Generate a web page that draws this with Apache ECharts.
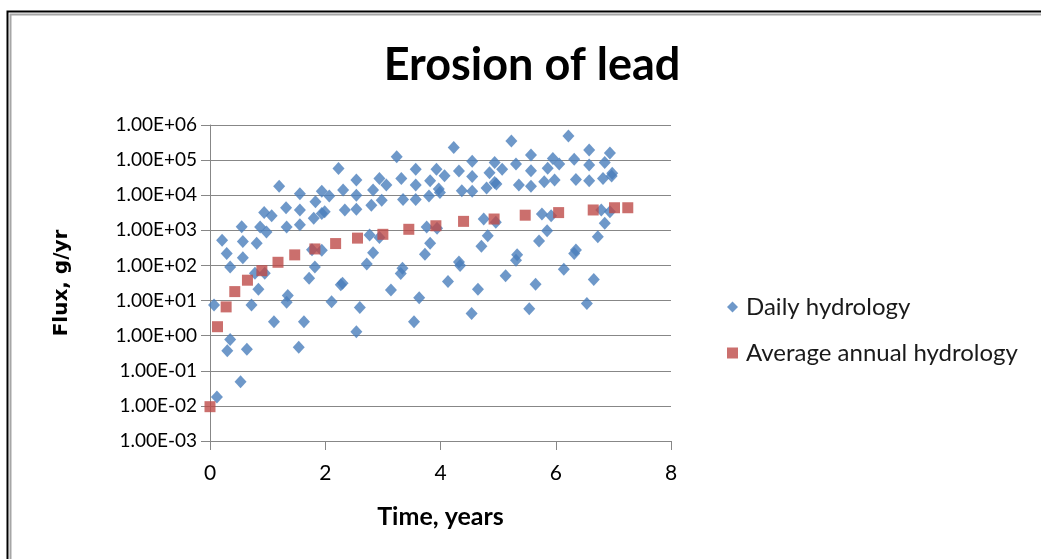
<!DOCTYPE html>
<html>
<head>
<meta charset="utf-8">
<script src="https://cdn.jsdelivr.net/npm/echarts@6/dist/echarts.min.js"></script>
<style>
html,body{margin:0;padding:0;background:#fff;}
#chart{width:1041px;height:559px;}
</style>
</head>
<body>
<div id="chart"></div>
<script>
var title = "Erosion of lead";
var xAxisName = "Time, years";
var yAxisName = "Flux, g/yr";
var seriesNames = ["Daily hydrology", "Average annual hydrology"];
var xTickLabels = ["0", "2", "4", "6", "8"];
var yTickLabels = ["1.00E-03","1.00E-02","1.00E-01","1.00E+00","1.00E+01","1.00E+02","1.00E+03","1.00E+04","1.00E+05","1.00E+06"];

// Daily hydrology: time (years)
var dailyX = [
  0.07,0.12,0.21,0.29,0.35,0.35,0.30,0.53,0.55,0.57,0.57,0.64,0.72,0.81,0.87,0.84,0.78,0.95,0.98,0.94,
  1.07,1.20,1.11,1.32,1.33,1.33,1.35,1.56,1.56,1.56,1.63,1.54,1.72,1.82,1.83,1.80,1.77,1.94,1.94,1.99,
  1.94,2.07,2.11,2.23,2.31,2.34,2.30,2.27,2.54,2.54,2.54,2.54,2.60,2.72,2.83,2.77,2.94,2.83,2.80,2.94,
  2.98,3.06,3.14,3.24,3.32,3.35,3.34,3.31,3.57,3.57,3.57,3.63,3.54,3.73,3.82,3.76,3.94,3.80,3.82,3.93,
  3.97,3.99,4.07,4.23,4.32,4.37,4.13,4.32,4.34,4.55,4.55,4.55,4.65,4.54,4.71,4.82,4.75,4.80,4.85,4.94,
  4.94,4.96,4.97,5.07,5.23,5.31,5.36,5.13,5.31,5.33,5.54,5.65,5.71,5.85,5.76,5.92,5.57,5.57,5.57,5.80,
  5.86,5.95,5.98,6.06,6.22,6.32,6.35,6.14,6.32,6.35,6.54,6.66,6.58,6.58,6.58,6.73,6.85,6.79,6.94,6.82,
  6.85,6.94,6.98,6.97
];
// Daily hydrology: flux (g/yr)
var dailyY = [
  7.5,0.018,520,220,91,0.78,0.37,0.049,1260,480,165,0.41,7.5,430,1250,21,60,60,900,3200,
  2600,18000,2.5,4400,1250,9,14,11000,3800,1450,2.5,0.47,43,91,6500,2200,280,270,13000,3400,
  3000,9500,9.3,58000,14000,3800,31,28,27000,10000,4000,1.3,6.3,110,230,740,620,14000,5200,30000,
  7200,19500,20,125000,30000,7600,83,59,7600,19500,55000,12,2.5,210,430,1250,1150,9500,26000,55000,
  15000,12000,36000,230000,49000,13500,35,125,100,93000,34000,13000,21,4.3,350,700,2100,16000,44000,85000,
  23000,1700,21000,55000,350000,77000,19500,51,140,200,5.8,29,500,980,2900,2600,140000,50000,18000,24000,
  59000,112000,27000,77000,490000,105000,28000,78,220,275,8.3,40,195000,72000,26000,660,1600,3800,3400,30000,
  85000,160000,42000,35000
];

// Average annual hydrology
var avgX = [0.0,0.13,0.28,0.43,0.65,0.90,1.18,1.47,1.82,2.18,2.56,3.00,3.45,3.92,4.40,4.93,5.47,6.05,6.65,7.02,7.25];
var avgY = [0.0095,1.8,6.6,18,38,71,123,200,295,420,600,770,1070,1350,1800,2100,2700,3200,3800,4400,4400];

function zip(a, b) { return a.map(function (v, i) { return [v, b[i]]; }); }

var chart = echarts.init(document.getElementById('chart'), null, {renderer: 'canvas'});
var gridColor = '#878787';
chart.setOption({
  animation: false,
  backgroundColor: '#ffffff',
  title: {
    text: title,
    left: 527, top: 38, textAlign: 'center',
    textStyle: {fontFamily: 'Lato', fontWeight: 'bold', fontSize: 45, color: '#000'}
  },
  legend: {
    orient: 'vertical',
    left: 722, top: 290,
    itemGap: 22,
    itemWidth: 11, itemHeight: 11,
    textStyle: {fontFamily: 'Lato', fontSize: 24, color: '#1a1a1a', padding: [0,0,0,3]},
    data: [
      {name: seriesNames[0], icon: 'diamond'},
      {name: seriesNames[1], icon: 'rect'}
    ]
  },
  grid: {left: 210, right: 370, top: 125, bottom: 118, containLabel: false},
  xAxis: {
    type: 'value', min: 0, max: 8, interval: 2,
    name: xAxisName, nameLocation: 'middle', nameGap: 63,
    nameTextStyle: {fontFamily: 'Lato', fontWeight: 'bold', fontSize: 25, color: '#000'},
    axisLine: {show: true, onZero: false, lineStyle: {color: gridColor, width: 1}},
    axisTick: {show: true, length: 9, lineStyle: {color: gridColor}},
    axisLabel: {
      fontFamily: 'Lato', fontSize: 21, color: '#000', margin: 22,
      formatter: function (v) { return xTickLabels[Math.round(v / 2)]; }
    },
    splitLine: {show: false}
  },
  yAxis: {
    type: 'log', logBase: 10, min: 0.001, max: 1000000, interval: 1,
    name: yAxisName, nameLocation: 'middle', nameGap: 138, nameRotate: 90,
    nameTextStyle: {fontFamily: 'DejaVu Sans', fontWeight: 'bold', fontSize: 20, color: '#000'},
    axisLine: {show: true, lineStyle: {color: gridColor, width: 1}},
    axisTick: {show: true, length: 9, lineStyle: {color: gridColor}},
    minorTick: {show: false},
    axisLabel: {
      fontFamily: 'Lato', fontSize: 19, color: '#000', margin: 13,
      formatter: function (v) { return yTickLabels[Math.round(Math.log10(v)) + 3]; }
    },
    splitLine: {show: true, lineStyle: {color: gridColor, width: 1}}
  },
  graphic: [
    {type: 'rect', shape: {x: 7.5, y: 11.5, width: 1200, height: 700}, style: {fill: 'none', stroke: '#000', lineWidth: 2}, silent: true},
    {type: 'rect', shape: {x: 10.5, y: 14.5, width: 1200, height: 700}, style: {fill: 'none', stroke: '#a6a6a6', lineWidth: 2}, silent: true}
  ],
  series: [
    {
      name: seriesNames[0], type: 'scatter', symbol: 'diamond', symbolSize: [12, 13],
      itemStyle: {color: '#4a7ebb'},
      data: zip(dailyX, dailyY)
    },
    {
      name: seriesNames[1], type: 'scatter', symbol: 'rect', symbolSize: 11,
      itemStyle: {color: '#be4b48'},
      data: zip(avgX, avgY)
    }
  ]
});
</script>
</body>
</html>
